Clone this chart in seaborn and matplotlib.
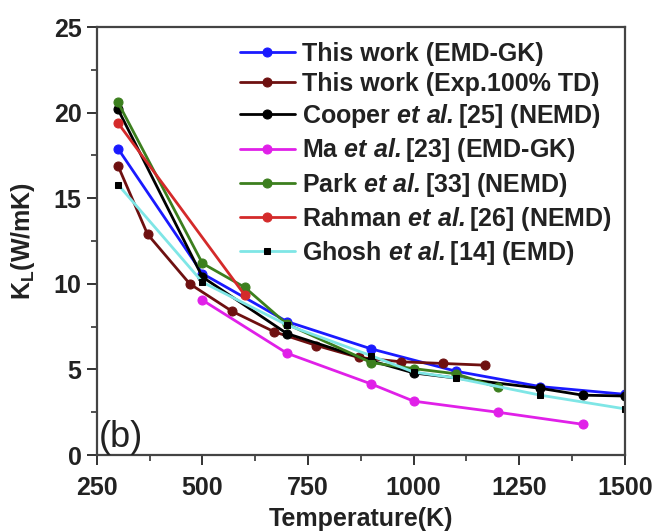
import matplotlib
matplotlib.use("Agg")
import matplotlib.pyplot as plt
import seaborn as sns
from matplotlib.ticker import MultipleLocator

# data
t_this = [300, 500, 700, 900, 1100, 1300, 1500]
k_this = [17.9, 10.6, 7.8, 6.2, 4.9, 4.0, 3.55]

t_exp = [300, 370, 470, 570, 670, 770, 870, 970, 1070, 1170]
k_exp = [16.9, 12.9, 10.0, 8.4, 7.2, 6.4, 5.7, 5.45, 5.35, 5.25]

t_cooper = [300, 500, 700, 900, 1000, 1300, 1400, 1500]
k_cooper = [20.2, 10.4, 7.1, 5.5, 4.8, 3.9, 3.5, 3.45]

t_ma = [500, 700, 900, 1000, 1200, 1400]
k_ma = [9.05, 5.95, 4.15, 3.15, 2.5, 1.8]

t_park = [300, 500, 600, 700, 900, 1000, 1100, 1200]
k_park = [20.6, 11.2, 9.8, 7.65, 5.4, 5.05, 4.75, 3.95]

t_rahman = [300, 600]
k_rahman = [19.4, 9.35]

t_ghosh = [300, 500, 700, 900, 1000, 1100, 1300, 1500]
k_ghosh = [15.8, 10.1, 7.6, 5.8, 4.85, 4.5, 3.5, 2.7]

# mathtext leaves its own gap after "al.", so no extra space is typed
labels = [
    "This work (EMD-GK)",
    "This work (Exp.100% TD)",
    r"Cooper $\mathbfit{et\ al.}$[25] (NEMD)",
    r"Ma $\mathbfit{et\ al.}$[23] (EMD-GK)",
    r"Park $\mathbfit{et\ al.}$[33] (NEMD)",
    r"Rahman $\mathbfit{et\ al.}$[26] (NEMD)",
    r"Ghosh $\mathbfit{et\ al.}$[14] (EMD)",
]

sns.set_style("ticks")
plt.rcParams["font.family"] = ["Liberation Sans", "DejaVu Sans"]
plt.rcParams["font.weight"] = "bold"
plt.rcParams["mathtext.fontset"] = "custom"
plt.rcParams["mathtext.rm"] = "Liberation Sans:bold"
plt.rcParams["mathtext.bf"] = "Liberation Sans:bold"
plt.rcParams["mathtext.it"] = "Liberation Sans:italic:bold"
plt.rcParams["mathtext.bfit"] = "Liberation Sans:italic:bold"

fig = plt.figure(figsize=(6.59, 5.31), dpi=100)
ax = fig.add_axes([0.147, 0.143, 0.801, 0.806])

series = [
    (t_this, k_this, "#1a1aff", "o", "#1a1aff", 6.5),
    (t_exp, k_exp, "#6e1010", "o", "#6e1010", 6.5),
    (t_cooper, k_cooper, "#000000", "o", "#000000", 6.5),
    (t_ma, k_ma, "#e020e8", "o", "#e020e8", 6.5),
    (t_park, k_park, "#3c7f1e", "o", "#3c7f1e", 6.5),
    (t_rahman, k_rahman, "#d42a2a", "o", "#d42a2a", 6.5),
    (t_ghosh, k_ghosh, "#7fe6e6", "s", "#000000", 5),
]

for (t, k, c, m, mc, ms), lab in zip(series, labels):
    sns.lineplot(x=t, y=k, ax=ax, color=c, marker=m, markersize=ms,
                 markerfacecolor=mc, markeredgecolor=mc, linewidth=2.0,
                 label=lab, sort=False, errorbar=None)

ax.set_xlim(250, 1500)
ax.set_ylim(0, 25)
ax.xaxis.set_major_locator(MultipleLocator(250))
ax.xaxis.set_minor_locator(MultipleLocator(125))
ax.yaxis.set_major_locator(MultipleLocator(5))
ax.yaxis.set_minor_locator(MultipleLocator(2.5))
ax.tick_params(which="major", direction="out", length=7, width=1.4,
               labelsize=18, colors="#333333", labelcolor="#222222", pad=4)
ax.tick_params(axis="x", which="major", pad=8)
ax.tick_params(which="minor", direction="out", length=4, width=1.2,
               colors="#333333")
for sp in ax.spines.values():
    sp.set_linewidth(1.6)
    sp.set_color("#444444")

ax.set_xlabel("Temperature(K)", fontsize=18, fontweight="bold",
              color="#222222", labelpad=5)
ax.set_ylabel(r"K$_\mathbf{L}$(W/mK)", fontsize=18, fontweight="bold",
              color="#222222", labelpad=12)
ax.text(0.003, 0.0, "(b)", transform=ax.transAxes, fontsize=26,
        fontweight="normal", color="#222222", ha="left", va="bottom")

leg = ax.legend(loc="upper right", frameon=False, fontsize=18,
                handlelength=2.2, handletextpad=0.3, labelspacing=0.25,
                borderaxespad=0.1, bbox_to_anchor=(1.0, 0.995))
for txt in leg.get_texts():
    txt.set_color("#222222")

fig.savefig("out.png", dpi=100)
